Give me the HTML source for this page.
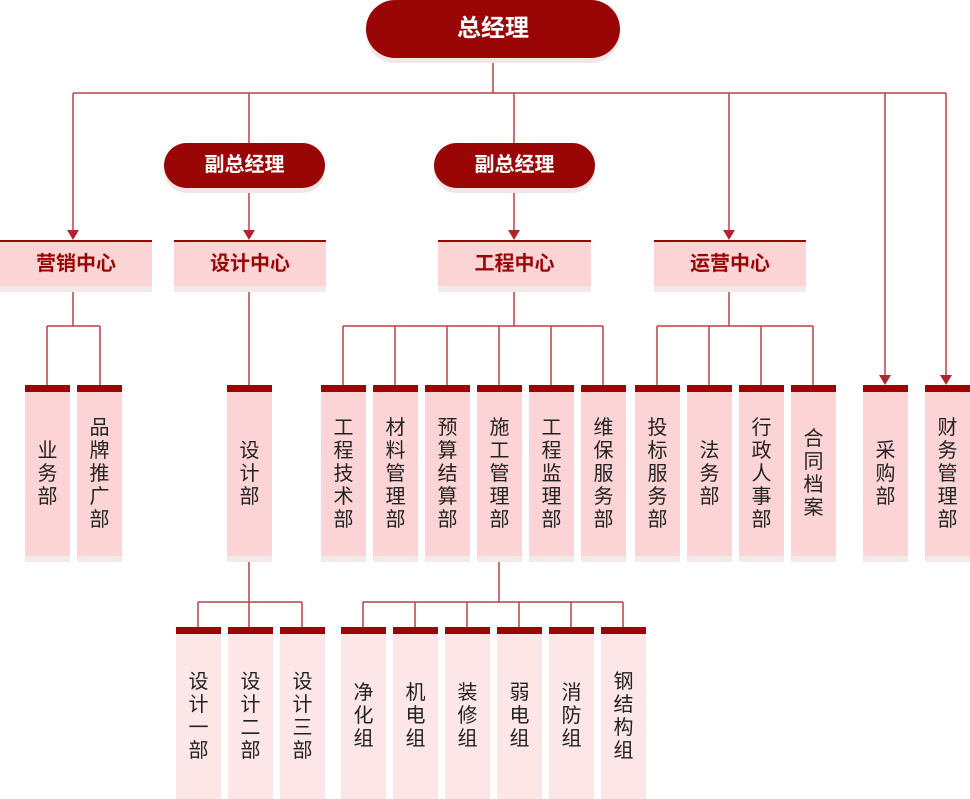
<!DOCTYPE html>
<html><head><meta charset="utf-8"><style>
html,body{margin:0;padding:0;background:#fff;}
body{width:970px;height:799px;position:relative;overflow:hidden;font-family:"Liberation Sans","Noto Sans CJK SC",sans-serif;}
.pill{position:absolute;background:#9a0606;color:#fff;font-weight:bold;text-align:center;border-radius:30px;box-shadow:0 5px 0 #f4e6e6;}
.ctr{position:absolute;background:#fdd4d5;border-top:2px solid #9a0606;color:#9a0606;font-weight:bold;font-size:20px;text-align:center;height:44px;line-height:44px;box-shadow:0 6px 0 #f4e9e9;}
.v{position:absolute;width:45px;background:#fdd4d5;border-top:7px solid #9a0606;box-shadow:0 6px 0 #f4e9e9;color:#222;font-size:20px;line-height:23px;display:flex;align-items:center;justify-content:center;}
.v span{width:22px;text-align:center;word-break:break-all;}
.b{background:#fde6e7;box-shadow:none;}
svg{position:absolute;left:0;top:0;}
</style></head><body>
<svg width="970" height="799">
<g stroke="#bb4046" stroke-width="1.5" fill="none">
<path d="M493 58V93M73 93H946M73 93V238M249 93V143M249 188V238M514 93V143M514 188V238M729 93V238M885 93V383M946 93V383"/>
<path d="M73 286V326M47 326H100M47 326V385M100 326V385"/>
<path d="M249 286V385"/>
<path d="M514 286V326M343 326H603M343 326V385M395 326V385M447 326V385M499 326V385M551 326V385M603 326V385"/>
<path d="M729 286V326M657 326H813M657 326V385M709 326V385M761 326V385M813 326V385"/>
<path d="M249 556V627M198 602H302M198 602V627M302 602V627"/>
<path d="M499 556V602M363 602H623M363 602V627M415 602V627M467 602V627M519 602V627M571 602V627M623 602V627"/>
</g>
<g fill="#b0262c">
<path d="M67 230L79 230L73 240Z"/><path d="M243 230L255 230L249 240Z"/><path d="M508 230L520 230L514 240Z"/><path d="M723 230L735 230L729 240Z"/><path d="M879 375L891 375L885 385Z"/><path d="M940 375L952 375L946 385Z"/>
</g>
</svg>
<div class="pill" style="left:366px;top:0;width:254px;height:58px;line-height:58px;font-size:24px;">总经理</div>
<div class="pill" style="left:164px;top:143px;width:161px;height:45px;line-height:45px;font-size:20px;">副总经理</div>
<div class="pill" style="left:434px;top:143px;width:161px;height:45px;line-height:45px;font-size:20px;">副总经理</div>

<div class="ctr" style="left:0;top:240px;width:152px;">营销中心</div>
<div class="ctr" style="left:174px;top:240px;width:152px;">设计中心</div>
<div class="ctr" style="left:438px;top:240px;width:153px;">工程中心</div>
<div class="ctr" style="left:654px;top:240px;width:152px;">运营中心</div>

<div class="v" style="left:25px;top:385px;height:164px;"><span>业务部</span></div>
<div class="v" style="left:77px;top:385px;height:164px;"><span>品牌推广部</span></div>
<div class="v" style="left:227px;top:385px;height:164px;"><span>设计部</span></div>
<div class="v" style="left:321px;top:385px;height:164px;"><span>工程技术部</span></div>
<div class="v" style="left:373px;top:385px;height:164px;"><span>材料管理部</span></div>
<div class="v" style="left:425px;top:385px;height:164px;"><span>预算结算部</span></div>
<div class="v" style="left:477px;top:385px;height:164px;"><span>施工管理部</span></div>
<div class="v" style="left:529px;top:385px;height:164px;"><span>工程监理部</span></div>
<div class="v" style="left:581px;top:385px;height:164px;"><span>维保服务部</span></div>
<div class="v" style="left:635px;top:385px;height:164px;"><span>投标服务部</span></div>
<div class="v" style="left:687px;top:385px;height:164px;"><span>法务部</span></div>
<div class="v" style="left:739px;top:385px;height:164px;"><span>行政人事部</span></div>
<div class="v" style="left:791px;top:385px;height:164px;"><span>合同档案</span></div>
<div class="v" style="left:863px;top:385px;height:164px;"><span>采购部</span></div>
<div class="v" style="left:925px;top:385px;height:164px;"><span>财务管理部</span></div>

<div class="v b" style="left:176px;top:627px;height:165px;"><span>设计一部</span></div>
<div class="v b" style="left:228px;top:627px;height:165px;"><span>设计二部</span></div>
<div class="v b" style="left:280px;top:627px;height:165px;"><span>设计三部</span></div>
<div class="v b" style="left:341px;top:627px;height:165px;"><span>净化组</span></div>
<div class="v b" style="left:393px;top:627px;height:165px;"><span>机电组</span></div>
<div class="v b" style="left:445px;top:627px;height:165px;"><span>装修组</span></div>
<div class="v b" style="left:497px;top:627px;height:165px;"><span>弱电组</span></div>
<div class="v b" style="left:549px;top:627px;height:165px;"><span>消防组</span></div>
<div class="v b" style="left:601px;top:627px;height:165px;"><span>钢结构组</span></div>
</body></html>
